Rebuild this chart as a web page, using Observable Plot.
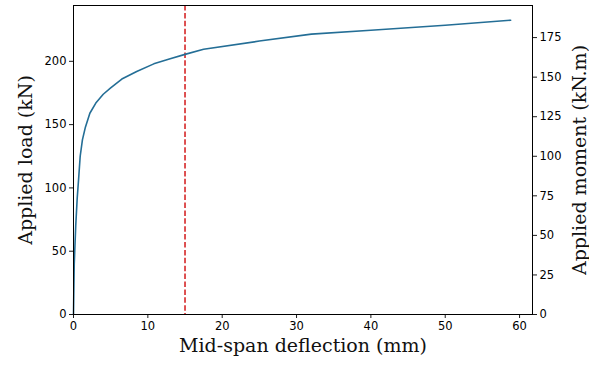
<!DOCTYPE html>
<html>
<head>
<meta charset="utf-8">
<script src="https://cdn.jsdelivr.net/npm/d3@7"></script>
<script src="https://cdn.jsdelivr.net/npm/@observablehq/plot@0.6"></script>
<style>
  html, body { margin: 0; padding: 0; background: white; }
  #chart { width: 589px; height: 365px; }
</style>
</head>
<body>
<div id="chart"></div>
<script>
// Load–deflection response at mid-span
const deflection = [0, 0.1, 0.3, 0.5, 0.7, 0.9, 1.2, 1.6, 2.2, 3.0, 4.0, 5.0, 6.5, 8.5, 10.8, 13, 15, 17.5, 25, 32, 40, 50, 58.8];
const load       = [0, 40, 70, 92, 108, 125, 138, 148, 159, 167, 174, 179, 186, 192, 198, 202, 205.5, 209.5, 216, 221.5, 224.5, 228.5, 232.5];

// Deflection limit marker (mm)
const limitDeflection = [15];

// Tick labels
const xTicks = [0, 10, 20, 30, 40, 50, 60];
const loadTicks = [0, 50, 100, 150, 200];
const momentTicks = [0, 25, 50, 75, 100, 125, 150, 175];

// Moment (kN.m) per unit load (kN)
const momentPerLoad = 0.8;

const data = deflection.map((d, i) => ({deflection: d, load: load[i]}));

const serif = "'DejaVu Serif', serif";
const sans = "'DejaVu Sans', sans-serif";

const chart = Plot.plot({
  width: 589,
  height: 365,
  marginLeft: 73,
  marginRight: 57,
  marginTop: 5,
  marginBottom: 51,
  style: {fontFamily: sans, fontSize: "11.5px", color: "black", background: "white"},
  x: {domain: [0, 61.74]},
  y: {domain: [0, 244.1]},
  marks: [
    Plot.ruleX(limitDeflection, {stroke: "#d62728", strokeWidth: 1.6, strokeDasharray: "5.5,2.4"}),
    Plot.line(data, {x: "deflection", y: "load", stroke: "#246e96", strokeWidth: 1.6}),
    Plot.frame({stroke: "black", strokeWidth: 1}),
    Plot.axisX({ticks: xTicks, tickSize: 4, tickPadding: 3, label: null, strokeWidth: 0.9}),
    Plot.axisY({anchor: "left", ticks: loadTicks, tickSize: 4, tickPadding: 3, label: null, strokeWidth: 0.9}),
    Plot.axisY({
      anchor: "right",
      ticks: momentTicks.map(m => m / momentPerLoad),
      tickFormat: d => String(Math.round(d * momentPerLoad)),
      tickSize: 4, tickPadding: 3, label: null, strokeWidth: 0.9
    }),
    Plot.text(["Mid-span deflection (mm)"], {frameAnchor: "bottom", dy: 37, textAnchor: "middle", fontFamily: serif, fontSize: 19, fill: "#111"}),
    Plot.text(["Applied load (kN)"], {frameAnchor: "left", dx: -48, rotate: -90, textAnchor: "middle", fontFamily: serif, fontSize: 19, fill: "#111"}),
    Plot.text(["Applied moment (kN.m)"], {frameAnchor: "right", dx: 47, rotate: -90, textAnchor: "middle", fontFamily: serif, fontSize: 19, fill: "#111"})
  ]
});

document.getElementById("chart").appendChild(chart);
</script>
</body>
</html>
